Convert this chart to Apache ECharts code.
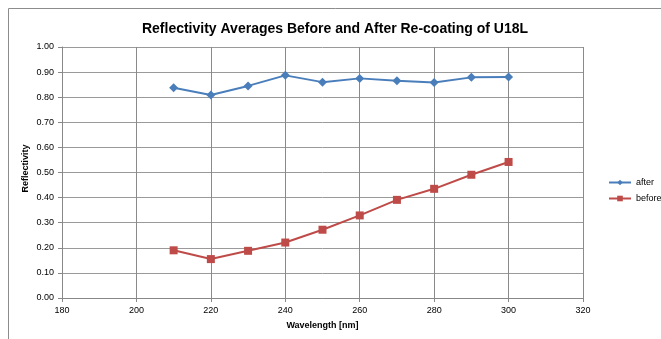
<!DOCTYPE html>
<html><head><meta charset="utf-8">
<script src="https://cdn.jsdelivr.net/npm/echarts@6/dist/echarts.min.js"></script>
<style>html,body{margin:0;padding:0;background:#fff}#c{width:661px;height:339px}</style>
</head><body><div id="c"></div>
<script>
const wavelengths = [210, 220, 230, 240, 250, 260, 270, 280, 290, 300];
const afterVals = [0.838, 0.809, 0.845, 0.887, 0.860, 0.875, 0.866, 0.859, 0.879, 0.880];
const beforeVals = [0.190, 0.155, 0.188, 0.221, 0.272, 0.329, 0.391, 0.435, 0.491, 0.542];
const titleText = 'Reflectivity Averages Before and After Re-coating of U18L';
const xName = 'Wavelength [nm]';
const yName = 'Reflectivity';

const chart = echarts.init(document.getElementById('c'));
const font = 'Liberation Sans, Arial, sans-serif';
chart.setOption({
  animation: false,
  graphic: [{type:'rect', shape:{x:8.5,y:8.5,width:700,height:400}, style:{fill:'none', stroke:'#8c8c8c', lineWidth:1}, silent:true}],
  title: {text: titleText, left: 330, top: 17, textAlign: 'center',
    textStyle: {fontFamily: font, fontSize: 14, fontWeight: 'bold', color: '#000'}},
  grid: {left: 62, right: 78, top: 47, bottom: 41, containLabel: false},
  legend: {orient: 'vertical', left: 603, top: 173, itemGap: 7, itemWidth: 22, itemHeight: 7,
    textStyle: {fontFamily: font, fontSize: 9, color: '#000'}},
  xAxis: {type: 'value', min: 180, max: 320, interval: 20,
    name: xName, nameLocation: 'middle', nameGap: 23, nameMoveOverlap: false,
    nameTextStyle: {fontFamily: font, fontSize: 9, fontWeight: 'bold', color: '#000'},
    axisLine: {lineStyle: {color: '#888', width: 1}},
    axisTick: {show: true, length: 4, lineStyle: {color: '#888'}},
    axisLabel: {fontFamily: font, fontSize: 9, color: '#000', margin: 8},
    splitLine: {show: true, lineStyle: {color: '#8a8a8a', width: 1}}},
  yAxis: {type: 'value', min: 0, max: 1, interval: 0.1,
    name: yName, nameLocation: 'middle', nameGap: 32, nameRotate: 90, nameMoveOverlap: false,
    nameTextStyle: {fontFamily: font, fontSize: 9, fontWeight: 'bold', color: '#000', padding: [0, 0, 0, 8]},
    axisLine: {show: true, lineStyle: {color: '#888', width: 1}},
    axisTick: {show: true, length: 4, lineStyle: {color: '#888'}},
    axisLabel: {fontFamily: font, fontSize: 9, color: '#000', margin: 8, formatter: v => v.toFixed(2)},
    splitLine: {show: true, lineStyle: {color: '#9a9a9a', width: 1}}},
  series: [
    {name: 'after', type: 'line', data: wavelengths.map((w,i)=>[w, afterVals[i]]),
      symbol: 'diamond', symbolSize: 9, itemStyle: {color: '#4A7EBB'}, lineStyle: {color: '#4A7EBB', width: 2}},
    {name: 'before', type: 'line', data: wavelengths.map((w,i)=>[w, beforeVals[i]]),
      symbol: 'rect', symbolSize: 8, itemStyle: {color: '#BE4B48'}, lineStyle: {color: '#BE4B48', width: 2}}
  ]
});
</script></body></html>
